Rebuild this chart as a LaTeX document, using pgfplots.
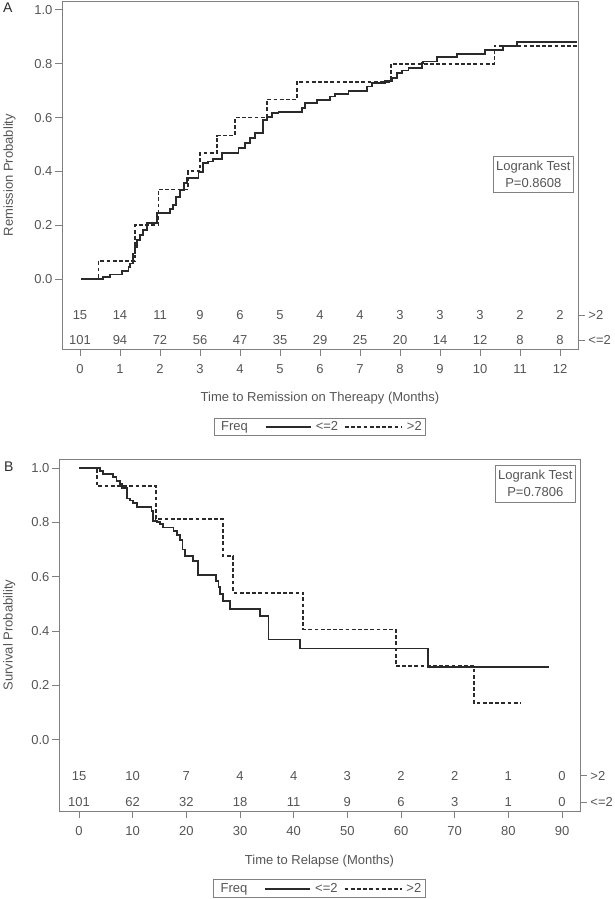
\documentclass[border=0pt]{standalone}
\usepackage{fontspec}
\setmainfont{Liberation Sans}
\usepackage{pgfplots}
\pgfplotsset{compat=1.18}
\definecolor{txt}{HTML}{555555}
\definecolor{frm}{HTML}{808080}
\definecolor{crv}{HTML}{2A2A2A}
\newcommand{\fs}{\fontsize{13}{16}\selectfont}
\tikzset{risk/.style={font=\fs, text=txt, anchor=center}}
\pgfplotsset{
  kmaxis/.style={
    scale only axis, anchor=south west, clip=false,
    axis line style={frm, line width=0.9pt},
    tick align=outside, major tick length=7pt,
    xtick pos=bottom, ytick pos=left,
    tick style={frm, line width=0.9pt},
    ticklabel style={font=\fs, text=txt},
    label style={font=\fs, text=txt},
    /pgf/number format/assume math mode=true,
    ytick={0,0.2,0.4,0.6,0.8,1.0},
    yticklabel={\pgfmathprintnumber[fixed,fixed zerofill,precision=1]{\tick}},
    yticklabel style={anchor=east, xshift=1pt},
    xticklabel style={anchor=north, yshift=-5pt},
    legend style={legend columns=-1, draw=frm, line width=0.9pt, font=\fs, text=txt,
      anchor=center, inner xsep=3pt, inner ysep=2.5pt, nodes={inner sep=1pt},
      /tikz/every odd column/.append style={column sep=3pt},
      /tikz/column 2/.style={column sep=16pt},
      /tikz/column 4/.style={column sep=5pt}},
  },
  solidkm/.style={const plot, crv, line width=1.8pt,
    legend image code/.code={\draw[##1] (0pt,0pt) -- (45pt,0pt);}},
  dashkm/.style={const plot, crv, line width=1.8pt, dash pattern=on 3.8pt off 2.4pt,
    legend image code/.code={\draw[##1] (0pt,0pt) -- (53pt,0pt); \path (0pt,0pt) -- (57pt,0pt);}},
}
\begin{document}
\begin{tikzpicture}
% ---------------- Panel A ----------------
\node[anchor=north west, inner sep=0pt, font=\fontsize{14}{16}\selectfont, text=crv] at (3pt,-3pt) {A};
\begin{axis}[kmaxis, at={(62pt,-349pt)}, width=516pt, height=348pt,
  xmin=-0.45, xmax=12.45, ymin=-0.26, ymax=1.033,
  xtick={0,1,2,3,4,5,6,7,8,9,10,11,12},
  xlabel={Time to Remission on Thereapy (Months)},
  ylabel={Remission Probablity},
  xlabel style={at={(axis description cs:0.5,-0.151)}, anchor=base},
  ylabel style={at={(axis description cs:-0.083,0.5)}, anchor=south},
  legend style={at={(0.5,-0.224)}}]
\addlegendimage{empty legend}\addlegendentry{Freq}
\addplot[solidkm] coordinates {
(0.03,0) (0.58,0.008) (0.75,0.017) (1.04,0.03) (1.21,0.045) (1.25,0.058) (1.33,0.095)
(1.38,0.12) (1.42,0.145) (1.5,0.164) (1.58,0.182) (1.67,0.207) (1.92,0.244) (2.25,0.26)
(2.32,0.275) (2.4,0.306) (2.5,0.331) (2.6,0.356) (2.67,0.374) (2.96,0.399) (3.08,0.43)
(3.2,0.437) (3.33,0.446) (3.54,0.467) (3.96,0.486) (4.125,0.504) (4.25,0.523) (4.375,0.542)
(4.58,0.591) (4.67,0.603) (4.79,0.616) (4.96,0.622) (5.54,0.634) (5.63,0.653) (5.92,0.665)
(6.25,0.678) (6.375,0.687) (6.71,0.70) (7.17,0.715) (7.29,0.727) (7.625,0.737) (7.79,0.746)
(7.92,0.765) (8.04,0.775) (8.21,0.783) (8.54,0.802) (8.58,0.808) (8.92,0.824) (9.42,0.836)
(10.125,0.851) (10.58,0.866) (10.92,0.882) (12.43,0.882)};
\addlegendentry{<=2}
\addplot[dashkm] coordinates {
(0.03,0) (0.46,0.067) (1.375,0.2) (1.96,0.333) (2.69,0.4) (3.0,0.467) (3.42,0.533)
(3.875,0.6) (4.67,0.667) (5.42,0.733) (7.77,0.8) (10.36,0.867) (12.43,0.867)};
\addlegendentry{>2}
\node[draw=frm, line width=0.9pt, anchor=south east, align=center,
  font=\fontsize{13}{17}\selectfont, text=txt, inner xsep=3pt, inner ysep=5pt]
  at (rel axis cs:0.9922,0.448) {Logrank Test\\P=0.8608};
% numbers at risk
\node[risk] at (axis cs:0,-0.1338) {15};
\node[risk] at (axis cs:1,-0.1338) {14};
\node[risk] at (axis cs:2,-0.1338) {11};
\node[risk] at (axis cs:3,-0.1338) {9};
\node[risk] at (axis cs:4,-0.1338) {6};
\node[risk] at (axis cs:5,-0.1338) {5};
\node[risk] at (axis cs:6,-0.1338) {4};
\node[risk] at (axis cs:7,-0.1338) {4};
\node[risk] at (axis cs:8,-0.1338) {3};
\node[risk] at (axis cs:9,-0.1338) {3};
\node[risk] at (axis cs:10,-0.1338) {3};
\node[risk] at (axis cs:11,-0.1338) {2};
\node[risk] at (axis cs:12,-0.1338) {2};
\node[risk] at (axis cs:0,-0.2268) {101};
\node[risk] at (axis cs:1,-0.2268) {94};
\node[risk] at (axis cs:2,-0.2268) {72};
\node[risk] at (axis cs:3,-0.2268) {56};
\node[risk] at (axis cs:4,-0.2268) {47};
\node[risk] at (axis cs:5,-0.2268) {35};
\node[risk] at (axis cs:6,-0.2268) {29};
\node[risk] at (axis cs:7,-0.2268) {25};
\node[risk] at (axis cs:8,-0.2268) {20};
\node[risk] at (axis cs:9,-0.2268) {14};
\node[risk] at (axis cs:10,-0.2268) {12};
\node[risk] at (axis cs:11,-0.2268) {8};
\node[risk] at (axis cs:12,-0.2268) {8};
\draw[frm, line width=0.9pt] (axis cs:12.45,-0.1338) -- ++(7pt,0pt) node[right, inner sep=3pt, font=\fs, text=txt] {>2};
\draw[frm, line width=0.9pt] (axis cs:12.45,-0.2268) -- ++(7pt,0pt) node[right, inner sep=3pt, font=\fs, text=txt] {<=2};
\end{axis}
% ---------------- Panel B ----------------
\node[anchor=north west, inner sep=0pt, font=\fontsize{14}{16}\selectfont, text=crv] at (4pt,-462pt) {B};
\begin{axis}[kmaxis, at={(59pt,-811pt)}, width=521pt, height=352pt,
  xmin=-3.73, xmax=93.35, ymin=-0.262, ymax=1.033,
  xtick={0,10,20,30,40,50,60,70,80,90},
  xlabel={Time to Relapse (Months)},
  ylabel={Survival Probability},
  xlabel style={at={(axis description cs:0.5,-0.1506)}, anchor=base},
  ylabel style={at={(axis description cs:-0.077,0.5)}, anchor=south},
  legend style={at={(0.5,-0.2205)}}]
\addlegendimage{empty legend}\addlegendentry{Freq}
\addplot[solidkm] coordinates {
(0.06,1) (3.9,0.99) (4.5,0.978) (6.4,0.966) (7.0,0.953) (7.6,0.94) (7.95,0.926)
(8.9,0.888) (9.5,0.88) (10.1,0.87) (10.75,0.857) (13.5,0.842) (13.8,0.806) (14.5,0.80)
(15.1,0.793) (15.7,0.781) (17.6,0.769) (18.2,0.753) (18.8,0.735) (19.3,0.70) (19.75,0.676)
(21.2,0.658) (22.2,0.605) (25.5,0.584) (26.0,0.563) (26.3,0.535) (26.8,0.51) (28.1,0.48)
(33.7,0.455) (35.3,0.369) (41.2,0.336) (65.1,0.268) (87.6,0.268)};
\addlegendentry{<=2}
\addplot[dashkm] coordinates {
(0.06,1) (3.3,0.933) (14.35,0.812) (26.8,0.676) (28.75,0.541) (41.8,0.406) (59.0,0.271)
(73.6,0.135) (82.3,0.135)};
\addlegendentry{>2}
\node[draw=frm, line width=0.9pt, anchor=north east, align=center,
  font=\fontsize{13}{17}\selectfont, text=txt, inner xsep=3pt, inner ysep=5pt]
  at (rel axis cs:0.9923,0.983) {Logrank Test\\P=0.7806};
\node[risk] at (axis cs:0,-0.1328) {15};
\node[risk] at (axis cs:10,-0.1328) {10};
\node[risk] at (axis cs:20,-0.1328) {7};
\node[risk] at (axis cs:30,-0.1328) {4};
\node[risk] at (axis cs:40,-0.1328) {4};
\node[risk] at (axis cs:50,-0.1328) {3};
\node[risk] at (axis cs:60,-0.1328) {2};
\node[risk] at (axis cs:70,-0.1328) {2};
\node[risk] at (axis cs:80,-0.1328) {1};
\node[risk] at (axis cs:90,-0.1328) {0};
\node[risk] at (axis cs:0,-0.2288) {101};
\node[risk] at (axis cs:10,-0.2288) {62};
\node[risk] at (axis cs:20,-0.2288) {32};
\node[risk] at (axis cs:30,-0.2288) {18};
\node[risk] at (axis cs:40,-0.2288) {11};
\node[risk] at (axis cs:50,-0.2288) {9};
\node[risk] at (axis cs:60,-0.2288) {6};
\node[risk] at (axis cs:70,-0.2288) {3};
\node[risk] at (axis cs:80,-0.2288) {1};
\node[risk] at (axis cs:90,-0.2288) {0};
\draw[frm, line width=0.9pt] (axis cs:93.35,-0.1328) -- ++(7pt,0pt) node[right, inner sep=3pt, font=\fs, text=txt] {>2};
\draw[frm, line width=0.9pt] (axis cs:93.35,-0.2288) -- ++(7pt,0pt) node[right, inner sep=3pt, font=\fs, text=txt] {<=2};
\end{axis}
\pgfresetboundingbox
\useasboundingbox (0pt,0pt) rectangle (614pt,-899pt);
\end{tikzpicture}
\end{document}
